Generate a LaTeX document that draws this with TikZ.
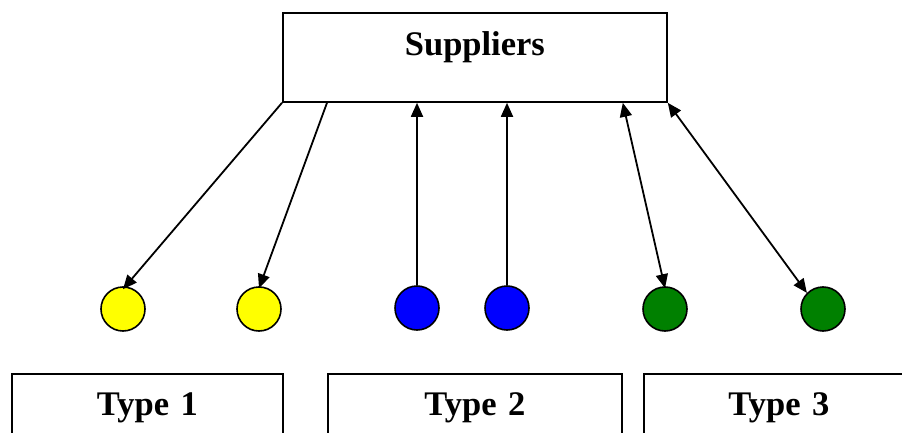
\documentclass[tikz,border=0pt]{standalone}
\usepackage{fontspec}
\setmainfont{Liberation Serif}
\usetikzlibrary{arrows.meta}
\definecolor{ygold}{RGB}{255,255,0}
\definecolor{bblue}{RGB}{0,0,255}
\definecolor{ggreen}{RGB}{0,128,0}
\tikzset{
  boxstyle/.style={draw=black, line width=1.8pt, rectangle, inner sep=0pt, font=\bfseries\fontsize{34.5}{40}\selectfont},
  dot/.style={draw=black, line width=1.6pt, circle, minimum size=44pt, inner sep=0pt},
  conn/.style={line width=1.8pt, -{Triangle[length=14pt,width=12pt]}},
  conn2/.style={line width=1.8pt, {Triangle[length=14pt,width=12pt]}-{Triangle[length=14pt,width=12pt]}}
}
\begin{document}
\begin{tikzpicture}[x=1pt,y=-1pt]
\useasboundingbox (0,0) rectangle (902,433);
\clip (0,0) rectangle (902,433);
% Suppliers box: x 282..666, y 12..101
\node[boxstyle, anchor=north west, minimum width=384pt, text width=384pt, align=center, text height=43pt, text depth=46pt] (sup) at (282,12) {Suppliers};
% Type boxes
\node[boxstyle, anchor=north west, text width=271pt, align=center, text height=42pt, text depth=60pt] (t1) at (11,373) {Type 1};
\node[boxstyle, anchor=north west, text width=294pt, align=center, text height=42pt, text depth=60pt] (t2) at (327,373) {Type 2};
\node[boxstyle, anchor=north west, text width=270pt, align=center, text height=42pt, text depth=60pt] (t3) at (643,373) {Type 3};
% circles
\node[dot, fill=ygold] (y1) at (123,309) {};
\node[dot, fill=ygold] (y2) at (259,309) {};
\node[dot, fill=bblue] (b1) at (417,308) {};
\node[dot, fill=bblue] (b2) at (507,308) {};
\node[dot, fill=ggreen] (g1) at (665,309) {};
\node[dot, fill=ggreen] (g2) at (823,309) {};
% connectors
\coordinate (s1) at (sup.south west);
\coordinate (s2) at ([xshift=45pt]sup.south west);
\coordinate (s3) at ([xshift=135pt]sup.south west);
\coordinate (s4) at ([xshift=225pt]sup.south west);
\coordinate (s5) at ([xshift=-45pt]sup.south east);
\coordinate (s6) at (sup.south east);
\draw[conn] (s1) -- ([yshift=-3pt]y1.north);
\draw[conn] (s2) -- ([yshift=-2pt]y2.north);
\draw[conn] (b1.north) -- (s3);
\draw[conn] (b2.north) -- (s4);
\draw[conn2] (s5) -- ([yshift=-2pt]g1.north);
\draw[conn2] (s6) -- (g2.north west);
\end{tikzpicture}
\end{document}
